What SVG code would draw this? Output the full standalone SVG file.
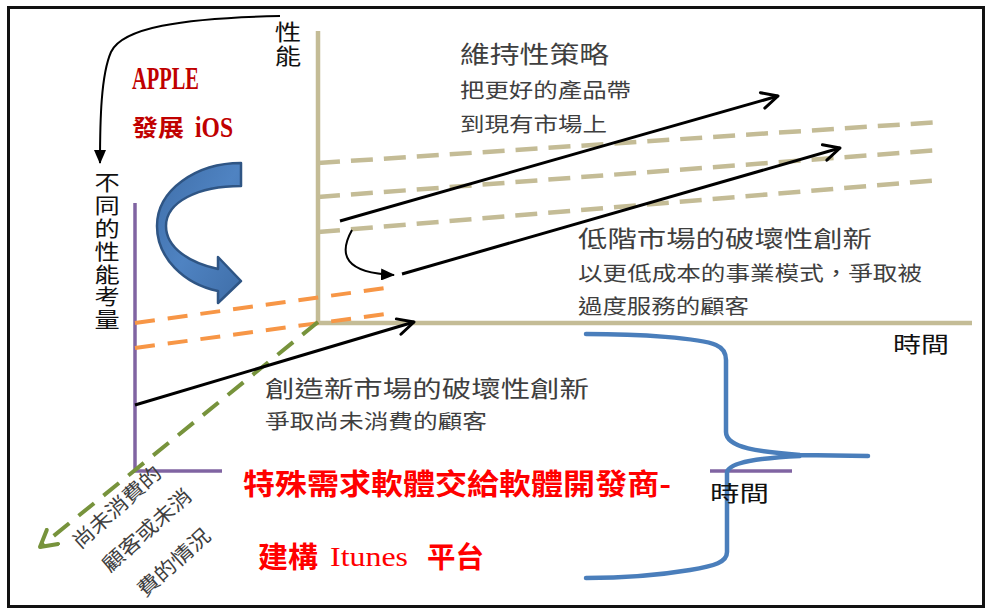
<svg xmlns="http://www.w3.org/2000/svg" width="990" height="610" viewBox="0 0 990 610">
<style>
.gray{font-family:"Noto Sans CJK TC","Noto Sans CJK SC",sans-serif;fill:#3f3f3f}
.blk{font-family:"Noto Sans CJK TC","Noto Sans CJK SC",sans-serif;fill:#111}
.vert{writing-mode:vertical-rl;text-orientation:upright}
.red{font-family:"Noto Sans CJK TC","Noto Sans CJK SC",sans-serif;fill:#ff0000;font-weight:bold}
.ser{font-family:"Liberation Serif",serif}
.tan{stroke:#c4bc96;stroke-width:4.5;fill:none}
.tandash{stroke:#c4bc96;stroke-width:4.5;fill:none;stroke-dasharray:22 11}
.orange{stroke:#f79646;stroke-width:4;fill:none;stroke-dasharray:20 13}
.purple{stroke:#8064a2;stroke-width:3.5;fill:none}
.arrow{stroke:#000;stroke-width:3;fill:none}
.blue{stroke:#4a7ebb;stroke-width:4.5;fill:none;stroke-linecap:round}
</style>
<defs>
<marker id="vhead" viewBox="0 0 20 20" refX="18" refY="10" markerWidth="20" markerHeight="20" markerUnits="userSpaceOnUse" orient="auto">
<path d="M2,2 L18,10 L2,18" fill="none" stroke="#000" stroke-width="3" stroke-linecap="round" stroke-linejoin="round"/>
</marker>
<marker id="ghead" viewBox="0 0 22 22" refX="19" refY="11" markerWidth="22" markerHeight="22" markerUnits="userSpaceOnUse" orient="auto">
<path d="M3,2 L19,11 L3,20" fill="none" stroke="#77933c" stroke-width="4" stroke-linecap="round" stroke-linejoin="round"/>
</marker>
<marker id="thead" viewBox="0 0 14 12" refX="13" refY="6" markerWidth="14" markerHeight="12" markerUnits="userSpaceOnUse" orient="auto">
<path d="M0,0 L14,6 L0,12 Z" fill="#000"/>
</marker>
<linearGradient id="bluegrad" x1="0" y1="0" x2="1" y2="1">
<stop offset="0" stop-color="#3f6ea8"/>
<stop offset="0.5" stop-color="#4f83c2"/>
<stop offset="1" stop-color="#3f6ea8"/>
</linearGradient>
</defs>
<rect width="990" height="610" fill="#fff"/>
<rect id="frame" x="8.5" y="7.5" width="975" height="599" fill="none" stroke="#111" stroke-width="3"/>

<g id="axes">
<line class="tan" x1="318" y1="31" x2="318" y2="323"/>
<line class="tan" x1="316" y1="323" x2="972" y2="323"/>
<line class="purple" x1="135" y1="203" x2="135" y2="471"/>
<line class="purple" x1="133" y1="471" x2="222" y2="471"/>
<line class="purple" x1="710" y1="471" x2="792" y2="471"/>
</g>

<g id="guides">
<line class="tandash" x1="318" y1="163" x2="940" y2="122"/>
<line class="tandash" x1="318" y1="197" x2="940" y2="150"/>
<line class="tandash" x1="318" y1="232" x2="940" y2="180"/>
<line class="orange" x1="135" y1="323" x2="393" y2="287"/>
<line class="orange" x1="135" y1="348" x2="393" y2="313"/>
</g>

<g id="connectors">
<path d="M318,322 L40,547" stroke="#77933c" stroke-width="4" fill="none" stroke-dasharray="20 12" marker-end="url(#ghead)"/>
<line class="arrow" x1="135" y1="405" x2="414" y2="322" marker-end="url(#vhead)"/>
<line class="arrow" x1="340" y1="221" x2="778" y2="96" marker-end="url(#vhead)"/>
<line class="arrow" x1="402" y1="274" x2="840" y2="148" marker-end="url(#vhead)"/>
<path d="M352,230 C 338,255 345,273 394,275" stroke="#000" stroke-width="2" fill="none" marker-end="url(#thead)"/>
<path d="M280,16 C 180,18 122,28 111,52 C 101,75 100,120 100,163" stroke="#000" stroke-width="2" fill="none" marker-end="url(#thead)"/>
</g>

<g id="bigarrow">
<path d="M241,163 C 196,163 157,190 157,226 C 157,258 184,284 218,291 L218,303 L241,281 L218,257 L218,269 C 190,263 166,248 166,226 C 166,202 198,186 241,186 Z" fill="url(#bluegrad)" stroke="#2f5584" stroke-width="2.5" stroke-linejoin="round"/>
</g>

<g id="bracket">
<path class="blue" d="M586,334 C 640,334 700,338 716,345 C 723,348 726,353 726,360 L726,432 C 726,448 760,452 800,455 L868,456 M800,456 C 760,458 730,462 727,472 L727,552 C 727,562 715,566 690,570 C 660,575 620,578 586,578"/>
</g>

<g id="label-perf">
<text class="blk vert" font-size="22" x="0" y="21" letter-spacing="2" transform="translate(288,0) scale(1.2,1)">性能</text>
</g>
<g id="label-yaxis">
<text class="blk vert" font-size="21" x="0" y="172" letter-spacing="1.8" transform="translate(107,0) scale(1.2,1)">不同的性能考量</text>
</g>
<g id="label-time1">
<text class="blk" font-size="22" x="893" y="352" textLength="56" lengthAdjust="spacingAndGlyphs">時間</text>
</g>
<g id="label-time2">
<text class="blk" font-size="22" x="710" y="501" textLength="59" lengthAdjust="spacingAndGlyphs">時間</text>
</g>

<g id="label-sustain">
<text class="gray" font-size="24" x="460" y="63" textLength="149" lengthAdjust="spacingAndGlyphs">維持性策略</text>
<text class="gray" font-size="20" x="460" y="98" textLength="171" lengthAdjust="spacingAndGlyphs">把更好的產品帶</text>
<text class="gray" font-size="20" x="460" y="132" textLength="147" lengthAdjust="spacingAndGlyphs">到現有市場上</text>
</g>
<g id="label-lowend">
<text class="gray" font-size="23" x="578" y="247" textLength="294" lengthAdjust="spacingAndGlyphs">低階市場的破壞性創新</text>
<text class="gray" font-size="20" x="578" y="281" textLength="344" lengthAdjust="spacingAndGlyphs">以更低成本的事業模式，爭取被</text>
<text class="gray" font-size="20" x="578" y="314" textLength="171" lengthAdjust="spacingAndGlyphs">過度服務的顧客</text>
</g>
<g id="label-newmarket">
<text class="gray" font-size="23" x="265" y="397" textLength="324" lengthAdjust="spacingAndGlyphs">創造新市場的破壞性創新</text>
<text class="gray" font-size="20" x="265" y="429" textLength="222" lengthAdjust="spacingAndGlyphs">爭取尚未消費的顧客</text>
</g>
<g id="label-nonconsume">
<text class="gray" font-size="20" transform="translate(80,550) rotate(-42)" textLength="112" lengthAdjust="spacingAndGlyphs">尚未消費的</text>
<text class="gray" font-size="20" transform="translate(110,573) rotate(-42)" textLength="112" lengthAdjust="spacingAndGlyphs">顧客或未消</text>
<text class="gray" font-size="20" transform="translate(145,598) rotate(-42)" textLength="90" lengthAdjust="spacingAndGlyphs">費的情況</text>
</g>

<g id="label-apple">
<text class="ser" font-size="32" font-weight="bold" fill="#c00000" x="132" y="89" textLength="67" lengthAdjust="spacingAndGlyphs">APPLE</text>
<text font-size="23" font-weight="bold" fill="#c00000" font-family="Noto Sans CJK TC, Noto Sans CJK SC, sans-serif" x="132" y="136" textLength="52" lengthAdjust="spacingAndGlyphs">發展</text>
<text class="ser" font-size="30" font-weight="bold" fill="#c00000" x="195" y="137" textLength="38" lengthAdjust="spacingAndGlyphs">iOS</text>
</g>

<g id="label-itunes">
<text class="red" font-size="29" x="243" y="495" textLength="428" lengthAdjust="spacingAndGlyphs">特殊需求軟體交給軟體開發商-</text>
<text class="red" font-size="29" x="258" y="568" textLength="60" lengthAdjust="spacingAndGlyphs">建構</text>
<text class="ser" font-size="28" fill="#ff0000" x="330" y="566" textLength="78" lengthAdjust="spacingAndGlyphs">Itunes</text>
<text class="red" font-size="29" x="427" y="568" textLength="57" lengthAdjust="spacingAndGlyphs">平台</text>
</g>
</svg>
